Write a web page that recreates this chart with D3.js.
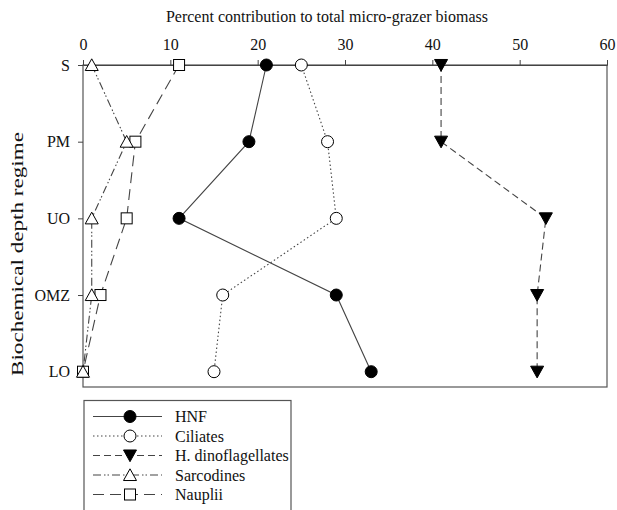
<!DOCTYPE html>
<html>
<head>
<meta charset="utf-8">
<script src="https://cdn.jsdelivr.net/npm/d3@7"></script>
<style>
  body { margin: 0; background: #fff; }
  svg, svg text { font-family: "Liberation Serif", "Times New Roman", serif; }
</style>
</head>
<body>
<div id="chart"></div>
<script>
// depth regimes (top to bottom)
const regimes = ["S", "PM", "UO", "OMZ", "LO"];
const xTicks = [0, 10, 20, 30, 40, 50, 60];

// percent contribution per regime
const hnf = [21, 19, 11, 29, 33];
const ciliates = [25, 28, 29, 16, 15];
const hDino = [41, 41, 53, 52, 52];
const sarcodines = [1, 5, 1, 1, 0];
const nauplii = [11, 6, 5, 2, 0];

const seriesNames = ["HNF", "Ciliates", "H. dinoflagellates", "Sarcodines", "Nauplii"];

const width = 617, height = 510;
const margin = {top: 65, left: 83, right: 10};
const plotRight = 607, plotBottom = 387;
const serif = '"Liberation Serif", "Times New Roman", serif';

const svg = d3.select('#chart')
    .append('svg')
    .attr('width', width)
    .attr('height', height);

const x = d3.scaleLinear().domain([0, 60]).range([margin.left, plotRight]);
const y = d3.scalePoint().domain(regimes).range([65, 371.7]);

const styles = [
    {data: hnf, dash: null, marker: 'circle', fill: '#000'},
    {data: ciliates, dash: '1.5,2.5', marker: 'circle', fill: '#fff'},
    {data: hDino, dash: '7,4', marker: 'triangleDown', fill: '#000'},
    {data: sarcodines, dash: '8,3,1.5,2,1.5,3', marker: 'triangleUp', fill: '#fff'},
    {data: nauplii, dash: '11,6', marker: 'square', fill: '#fff'}
];

// plot box
svg.append('rect')
    .attr('x', margin.left)
    .attr('y', margin.top)
    .attr('width', plotRight - margin.left)
    .attr('height', plotBottom - margin.top)
    .attr('fill', 'none')
    .attr('stroke', '#555')
    .attr('stroke-width', 1.2);

// top axis
const xAxis = svg.append('g')
    .attr('transform', `translate(0,${margin.top})`)
    .call(d3.axisTop(x).tickValues(xTicks).tickSize(5).tickPadding(10))
    .attr('font-family', serif);
xAxis.select('.domain').attr('stroke', '#444');
xAxis.selectAll('.tick line').attr('stroke', '#444');
xAxis.selectAll('text').style('font-size', '16px').attr('fill', '#111');

// left axis
const yAxis = svg.append('g')
    .attr('transform', `translate(${margin.left},0)`)
    .call(d3.axisLeft(y).tickSize(5).tickPadding(8).tickSizeOuter(0))
    .attr('font-family', serif);
yAxis.select('.domain').remove();
yAxis.selectAll('.tick line').attr('stroke', '#444');
yAxis.selectAll('text').style('font-size', '16px').attr('fill', '#111');

// titles
svg.append('text')
    .attr('x', 327)
    .attr('y', 22)
    .attr('text-anchor', 'middle')
    .style('font-size', '16px')
    .attr('fill', '#111')
    .text('Percent contribution to total micro-grazer biomass');

svg.append('text')
    .attr('transform', `translate(23,254) rotate(-90)`)
    .attr('text-anchor', 'middle')
    .style('font-size', '17px')
    .attr('textLength', 244)
    .attr('lengthAdjust', 'spacingAndGlyphs')
    .attr('fill', '#111')
    .text('Biochemical depth regime');

function drawMarker(g, type, fill, cx, cy) {
    if (type === 'circle') {
        g.append('circle').attr('cx', cx).attr('cy', cy).attr('r', 6)
            .attr('fill', fill).attr('stroke', '#000').attr('stroke-width', 1);
    } else if (type === 'square') {
        g.append('rect').attr('x', cx - 5.5).attr('y', cy - 5.5)
            .attr('width', 11).attr('height', 11)
            .attr('fill', fill).attr('stroke', '#000').attr('stroke-width', 1);
    } else {
        const s = 6.5;
        const pts = type === 'triangleDown'
            ? [[cx - s, cy - s * 0.85], [cx + s, cy - s * 0.85], [cx, cy + s * 0.95]]
            : [[cx - s, cy + s * 0.85], [cx + s, cy + s * 0.85], [cx, cy - s * 0.95]];
        g.append('polygon').attr('points', pts.map(p => p.join(',')).join(' '))
            .attr('fill', fill).attr('stroke', '#000').attr('stroke-width', 1);
    }
}

const line = d3.line()
    .x(d => x(d[0]))
    .y(d => y(d[1]));

// lines first, then markers (draw in reverse so HNF is on top)
styles.slice().reverse().forEach(s => {
    const pts = s.data.map((v, i) => [v, regimes[i]]);
    svg.append('path')
        .attr('d', line(pts))
        .attr('fill', 'none')
        .attr('stroke', '#444')
        .attr('stroke-width', 1.1)
        .attr('stroke-dasharray', s.dash);
});
styles.slice().reverse().forEach(s => {
    const g = svg.append('g');
    s.data.forEach((v, i) => drawMarker(g, s.marker, s.fill, x(v), y(regimes[i])));
});

// legend
const legend = svg.append('g');
legend.append('rect')
    .attr('x', 84).attr('y', 400.5)
    .attr('width', 207).attr('height', 130)
    .attr('fill', '#fff').attr('stroke', '#555').attr('stroke-width', 1.2);

styles.forEach((s, i) => {
    const ly = 416.5 + i * 19.5;
    legend.append('line')
        .attr('x1', 93).attr('x2', 162)
        .attr('y1', ly).attr('y2', ly)
        .attr('stroke', '#444').attr('stroke-width', 1.1)
        .attr('stroke-dasharray', s.dash);
    drawMarker(legend, s.marker, s.fill, 130, ly);
    legend.append('text')
        .attr('x', 175).attr('y', ly + 5.5)
        .style('font-size', '16px')
        .attr('fill', '#111')
        .text(seriesNames[i]);
});
</script>
</body>
</html>
